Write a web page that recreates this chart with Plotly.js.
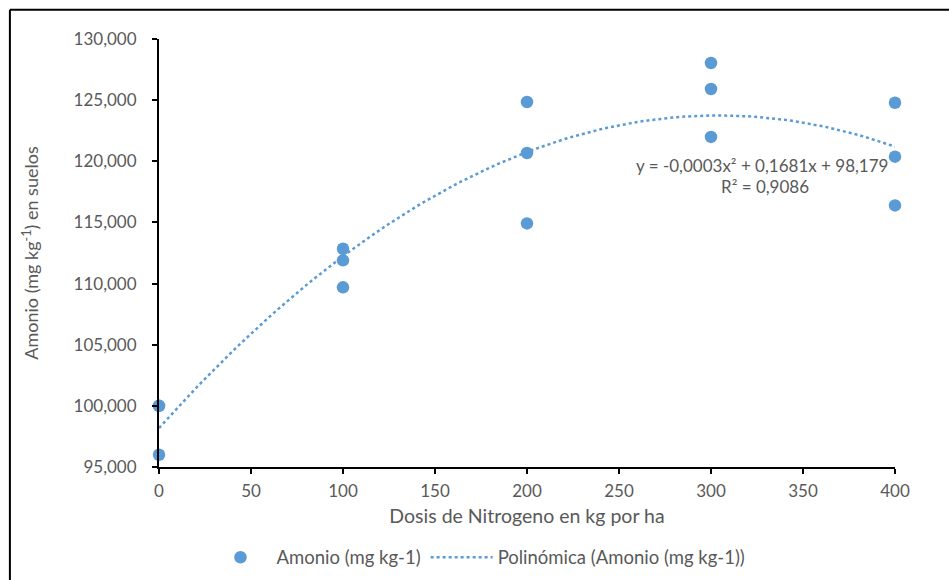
<!DOCTYPE html>
<html><head><meta charset="utf-8">
<script src="https://cdn.plot.ly/plotly-3.0.1.min.js"></script>
<style>html,body{margin:0;padding:0;background:#fff}#chart{width:949px;height:580px}</style>
</head><body><div id="chart"></div>
<script>
// Data
const dosis  = [0, 0, 0, 100, 100, 100, 200, 200, 200, 300, 300, 300, 400, 400, 400];
const amonio = [100.0, 100.0, 96.0, 112.85, 111.9, 109.69, 124.85, 120.68, 114.92, 128.04, 125.91, 121.99, 124.79, 120.38, 116.39];
const xTickVals = [0, 50, 100, 150, 200, 250, 300, 350, 400];
const yTickVals = [95, 100, 105, 110, 115, 120, 125, 130];
const seriesName = 'Amonio (mg kg-1)';
const trendName = 'Polinómica (Amonio (mg kg-1))';
const eqLine1 = 'y = -0,0003x² + 0,1681x + 98,179';
const eqLine2 = 'R² = 0,9086';
const xTitle = 'Dosis de Nitrogeno en kg por ha';
const yTitle = 'Amonio (mg kg<sup>-1</sup>) en suelos';

// Least-squares quadratic trendline (as Excel's polynomial trendline)
function polyFit2(xs, ys) {
  let S = [0,0,0,0,0], T = [0,0,0];
  for (let i = 0; i < xs.length; i++) {
    let p = 1;
    for (let k = 0; k < 5; k++) { S[k] += p; if (k < 3) T[k] += p * ys[i]; p *= xs[i]; }
  }
  const A = [[S[0],S[1],S[2],T[0]],[S[1],S[2],S[3],T[1]],[S[2],S[3],S[4],T[2]]];
  for (let c = 0; c < 3; c++) {
    for (let r = c + 1; r < 3; r++) {
      const f = A[r][c] / A[c][c];
      for (let k = c; k < 4; k++) A[r][k] -= f * A[c][k];
    }
  }
  const sol = [0,0,0];
  for (let r = 2; r >= 0; r--) {
    let s = A[r][3];
    for (let k = r + 1; k < 3; k++) s -= A[r][k] * sol[k];
    sol[r] = s / A[r][r];
  }
  return sol; // c0, c1, c2
}
const coef = polyFit2(dosis, amonio);
const trendX = [], trendY = [];
for (let x = 0; x <= 400; x += 4) { trendX.push(x); trendY.push(coef[0] + coef[1]*x + coef[2]*x*x); }

const blue = '#5B9BD5';
const gray = '#595959';
const fnt = 'Lato, "Open Sans", sans-serif';

const L = 158.5, R = 54, T = 39.3, B = 112.7;
const W = 949, H = 580;
const pw = W - L - R, ph = H - T - B;
const px = v => (v - L) / pw;
const py = v => (H - B - v) / ph;

const traces = [
  { x: dosis, y: amonio, type: 'scatter', mode: 'markers', name: seriesName,
    marker: { color: blue, size: 12.5 }, cliponaxis: false },
  { x: trendX, y: trendY, type: 'scatter', mode: 'lines', name: trendName,
    line: { color: blue, width: 2.5, dash: 'dot' }, cliponaxis: false }
];

const layout = {
  width: W, height: H,
  margin: { l: L, r: R, t: T, b: B, autoexpand: false },
  paper_bgcolor: '#fff', plot_bgcolor: '#fff',
  separators: ',.',
  font: { family: fnt, size: 17, color: gray },
  showlegend: true,
  legend: { orientation: 'h', x: px(204), xanchor: 'left', y: py(558), yanchor: 'middle',
            itemwidth: 62, font: { family: fnt, size: 18.5, color: gray }, bgcolor: 'rgba(0,0,0,0)' },
  xaxis: { range: [0, 400], tickvals: xTickVals, showgrid: false, zeroline: false,
           showline: true, linecolor: '#000', linewidth: 2, ticks: 'outside', ticklen: 5,
           tickwidth: 2, tickcolor: '#000', ticklabelstandoff: 3,
           tickfont: { family: fnt, size: 17, color: gray },
           title: { text: xTitle, font: { family: fnt, size: 19.5, color: gray }, standoff: 9 },
           automargin: false, fixedrange: true },
  yaxis: { range: [95, 130], tickvals: yTickVals, tickformat: '.3f', showgrid: false, zeroline: false,
           showline: true, linecolor: '#000', linewidth: 2, ticks: 'outside', ticklen: 5,
           tickwidth: 2, tickcolor: '#000', ticklabelstandoff: 12,
           tickfont: { family: fnt, size: 17, color: gray },
           title: { text: yTitle, font: { family: fnt, size: 18, color: gray }, standoff: 30 },
           automargin: false, fixedrange: true },
  annotations: [
    { xref: 'paper', yref: 'paper', x: px(762), y: py(166), text: eqLine1, showarrow: false,
      xanchor: 'center', yanchor: 'middle', font: { family: fnt, size: 17, color: gray } },
    { xref: 'paper', yref: 'paper', x: px(765), y: py(187), text: eqLine2, showarrow: false,
      xanchor: 'center', yanchor: 'middle', font: { family: fnt, size: 17, color: gray } }
  ],
  shapes: [
    { type: 'line', xref: 'paper', yref: 'paper', x0: px(9.3), x1: px(960), y0: py(10), y1: py(10),
      line: { color: '#000', width: 2 } },
    { type: 'line', xref: 'paper', yref: 'paper', x0: px(9.3), x1: px(9.3), y0: py(10), y1: py(600),
      line: { color: '#000', width: 2 } }
  ]
};

Plotly.newPlot('chart', traces, layout, { displayModeBar: false, staticPlot: true });
</script>
</body></html>
